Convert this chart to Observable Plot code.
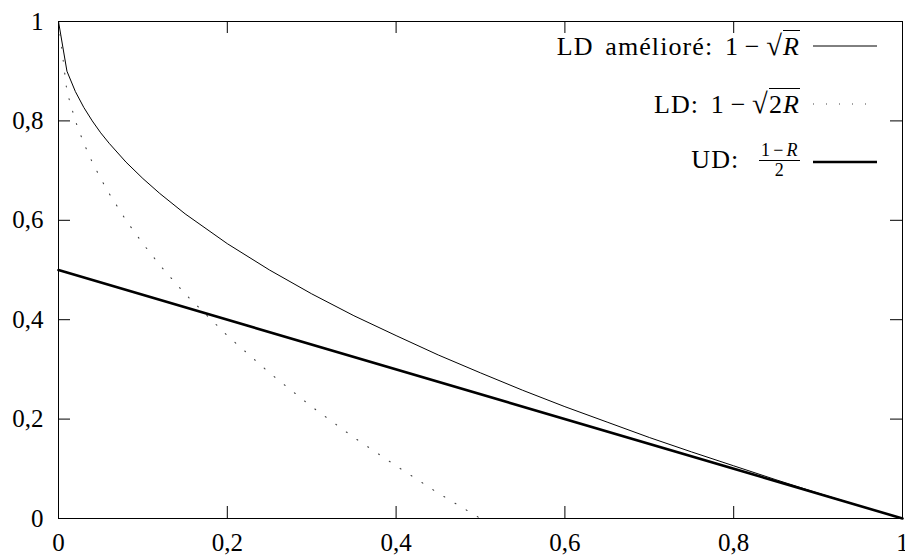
<!DOCTYPE html>
<html>
<head>
<meta charset="utf-8">
<script src="https://cdn.jsdelivr.net/npm/d3@7"></script>
<script src="https://cdn.jsdelivr.net/npm/@observablehq/plot@0.6"></script>
<style>
  html, body { margin: 0; padding: 0; background: white; }
  #wrap { position: relative; width: 905px; height: 556px; overflow: hidden; font-family: "Liberation Serif", serif; }
  #legend { position: absolute; top: 17px; left: 0; width: 877px; font-size: 26px; color: black; font-family: "Liberation Serif", serif; letter-spacing: 1.1px; word-spacing: 4px; }
  .row { display: flex; justify-content: flex-end; align-items: center; height: 58px; }
  .lbl { text-align: right; white-space: nowrap; }
  .sample { width: 64px; margin-left: 13px; }
  .mi { margin: 0 0.22em; }
  .rad { font-size: 1.1em; }
  .ov { border-top: 1.2px solid black; padding-top: 1px; }
  .frac { display: inline-flex; flex-direction: column; align-items: center; vertical-align: middle; font-size: 18px; line-height: 19px; margin-left: 8px; position: relative; top: -2px; letter-spacing: 0.5px; }
  .frac .num { border-bottom: 1.2px solid black; padding: 0 2px; }
  .frac .mi { margin: 0 0.15em; }
  i { font-style: italic; }
</style>
</head>
<body>
<div id="wrap"></div>
<script>
// Tick values and labels
const xTicks = [0, 0.2, 0.4, 0.6, 0.8, 1];
const xTickLabels = ["0", "0,2", "0,4", "0,6", "0,8", "1"];
const yTicks = [0, 0.2, 0.4, 0.6, 0.8, 1];
const yTickLabels = ["0", "0,2", "0,4", "0,6", "0,8", "1"];

// LD amélioré : 1 - sqrt(R)
const ldImpR = [0, 0.01, 0.02, 0.03, 0.04, 0.05, 0.06, 0.08, 0.1, 0.12, 0.15, 0.2, 0.25, 0.3, 0.35, 0.4, 0.45, 0.5, 0.55, 0.6, 0.65, 0.7, 0.75, 0.8, 0.85, 0.9, 0.95, 1];
const ldImpV = [1, 0.9, 0.859, 0.827, 0.8, 0.776, 0.755, 0.717, 0.684, 0.654, 0.613, 0.553, 0.5, 0.452, 0.408, 0.368, 0.329, 0.293, 0.258, 0.225, 0.194, 0.163, 0.134, 0.106, 0.078, 0.051, 0.025, 0];

// LD : 1 - sqrt(2R)
const ldR = [0, 0.01, 0.02, 0.03, 0.04, 0.05, 0.06, 0.08, 0.1, 0.12, 0.15, 0.2, 0.25, 0.3, 0.35, 0.4, 0.45, 0.5];
const ldV = [1, 0.859, 0.8, 0.755, 0.717, 0.684, 0.654, 0.6, 0.553, 0.51, 0.452, 0.368, 0.293, 0.225, 0.163, 0.106, 0.051, 0];

// UD : (1-R)/2
const udR = [0, 1];
const udV = [0.5, 0];

const ldImp = ldImpR.map((r, i) => ({R: r, v: ldImpV[i]}));
const ld = ldR.map((r, i) => ({R: r, v: ldV[i]}));
const ud = udR.map((r, i) => ({R: r, v: udV[i]}));

const W = 905, H = 556, mL = 58, mR = 3, mT = 21, mB = 38;
const pw = W - mL - mR, ph = H - mT - mB, tl = 12;

const chart = Plot.plot({
  width: W, height: H,
  marginLeft: mL, marginRight: mR, marginTop: mT, marginBottom: mB,
  x: {domain: [0, 1]},
  y: {domain: [0, 1]},
  style: {fontFamily: "'Liberation Serif', serif", fontSize: "25px", color: "black", background: "white", overflow: "visible"},
  marks: [
    Plot.line(ldImp, {x: "R", y: "v", stroke: "black", strokeWidth: 1}),
    Plot.line(ld, {x: "R", y: "v", stroke: "#444", strokeWidth: 1.1, strokeDasharray: "1,12"}),
    Plot.line(ud, {x: "R", y: "v", stroke: "black", strokeWidth: 2.6}),
    Plot.frame({stroke: "black", strokeWidth: 1}),
    Plot.tickX(xTicks, {x: d => d, insetTop: ph - tl, stroke: "black"}),
    Plot.tickX(xTicks, {x: d => d, insetBottom: ph - tl, stroke: "black"}),
    Plot.tickY(yTicks, {y: d => d, insetRight: pw - tl, stroke: "black"}),
    Plot.tickY(yTicks, {y: d => d, insetLeft: pw - tl, stroke: "black"}),
    Plot.axisX(xTicks, {tickSize: 0, tickPadding: 15, tickFormat: (d, i) => xTickLabels[i], label: null, fontSize: 25}),
    Plot.axisY(yTicks, {tickSize: 0, tickPadding: 15, tickFormat: (d, i) => yTickLabels[i], label: null, fontSize: 25})
  ]
});

const wrap = document.getElementById("wrap");
wrap.appendChild(chart);

const legend = document.createElement("div");
legend.id = "legend";
legend.innerHTML = `
  <div class="row"><span class="lbl">LD amélioré: 1<span class="mi">−</span><span class="rad">√</span><span class="ov"><i>R</i></span></span>
    <svg class="sample" width="64" height="4"><line x1="0" x2="64" y1="2" y2="2" stroke="black" stroke-width="1"/></svg></div>
  <div class="row"><span class="lbl">LD: 1<span class="mi">−</span><span class="rad">√</span><span class="ov">2<i>R</i></span></span>
    <svg class="sample" width="64" height="4"><line x1="0" x2="64" y1="2" y2="2" stroke="#444" stroke-width="1.1" stroke-dasharray="1,12"/></svg></div>
  <div class="row"><span class="lbl">UD: <span class="frac"><span class="num">1<span class="mi">−</span><i>R</i></span><span>2</span></span></span>
    <svg class="sample" width="64" height="4"><line x1="0" x2="64" y1="2" y2="2" stroke="black" stroke-width="2.6"/></svg></div>
`;
wrap.appendChild(legend);
</script>
</body>
</html>
